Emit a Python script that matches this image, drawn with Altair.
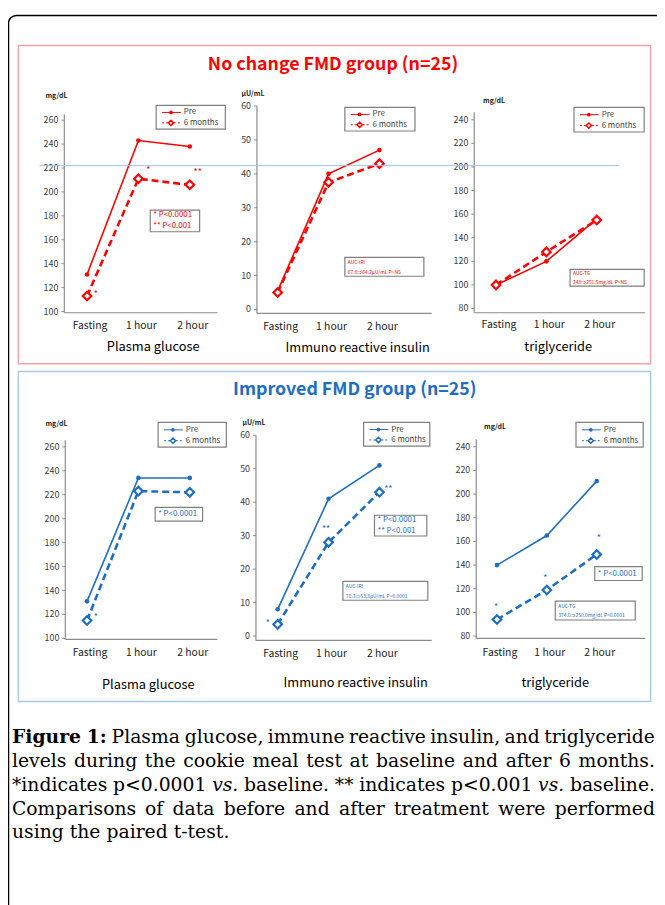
import altair as alt
import pandas as pd

# ---------------- data ----------------
times = ["Fasting", "1 hour", "2 hour"]
series_names = ["Pre", "6 months"]

glucose_nochange_pre = [131, 243, 238]
glucose_nochange_6m = [113, 211, 206]
insulin_nochange_pre = [5.5, 40, 47]
insulin_nochange_6m = [5, 37.5, 43]
tg_nochange_pre = [100, 120, 156]
tg_nochange_6m = [100, 128, 155]

glucose_improved_pre = [131, 234, 234]
glucose_improved_6m = [115, 223, 222]
insulin_improved_pre = [8, 41, 51]
insulin_improved_6m = [3.5, 28, 43]
tg_improved_pre = [140, 165, 211]
tg_improved_6m = [94, 119, 149]

glucose_ticks = [100, 120, 140, 160, 180, 200, 220, 240, 260]
insulin_ticks = [0, 10, 20, 30, 40, 50, 60]
tg_ticks = [80, 100, 120, 140, 160, 180, 200, 220, 240]

group_titles = ["No change FMD group (n=25)", "Improved FMD group (n=25)"]
panel_titles = ["Plasma glucose", "Immuno reactive insulin", "triglyceride"]
unit_labels = ["mg/dL", "\u03bcU/mL", "mg/dL"]

p_notes_two = ["*  P<0.0001", "** P<0.001"]
p_notes_one = ["*  P<0.0001"]
auc_nochange_iri = ["AUC-IRI", "67.8\u21d264.2\u03bcU/mL     P=NS"]
auc_nochange_tg = ["AUC-TG", "248\u21d2251.5mg/dL     P=NS"]
auc_improved_iri = ["AUC-IRI", "70.3\u21d253.8\u03bcU/mL     P<0.0001"]
auc_improved_tg = ["AUC-TG", "374.0\u21d2250.0mg/dL    P<0.0001"]

caption_lines = [
    "Figure 1: Plasma glucose, immune reactive insulin, and triglyceride",
    "levels during the cookie meal test at baseline and after 6 months.",
    "*indicates p<0.0001 vs. baseline. ** indicates p<0.001 vs. baseline.",
    "Comparisons of data before and after treatment were performed",
    "using the paired t-test.",
]
caption_bold = ["Figure", "1:"]
caption_italic = ["vs."]

# ---------------- styling ----------------
W, H = 657, 897
OFF = 8
RED = "#FF0000"
BLUE = "#1E6EC0"
AXIS = "#8C8C8C"
TICK = "#404040"
SANS = "Noto Sans CJK JP"
SERIF = "DejaVu Serif"

layers = []
one = pd.DataFrame({"k": [0]})


def px(v):
    return v - OFF


def text(s, x, y, size, color="black", align="left", baseline="middle",
         weight="normal", font=SANS, style="normal"):
    layers.append(
        alt.Chart(one).mark_text(text=s, align=align, baseline=baseline, fontSize=size,
                                 color=color, fontWeight=weight, font=font, fontStyle=style)
        .encode(x=alt.value(px(x)), y=alt.value(px(y)))
    )


def box(x0, y0, x1, y1, stroke, sw=1.0, fill="white", fill_opacity=1.0, radius=0):
    layers.append(
        alt.Chart(one).mark_rect(stroke=stroke, strokeWidth=sw, fill=fill,
                                 fillOpacity=fill_opacity, cornerRadius=radius)
        .encode(x=alt.value(px(x0)), x2=alt.value(px(x1)),
                y=alt.value(px(y0)), y2=alt.value(px(y1)))
    )


def rule(x0, y0, x1, y1, color, sw=1.0, dash=None):
    kw = dict(color=color, strokeWidth=sw)
    if dash:
        kw["strokeDash"] = dash
    layers.append(
        alt.Chart(one).mark_rule(**kw)
        .encode(x=alt.value(px(x0)), x2=alt.value(px(x1)),
                y=alt.value(px(y0)), y2=alt.value(px(y1)))
    )


def symbol(x, y, shape, size, color, filled):
    if filled:
        m = alt.Chart(one).mark_point(shape=shape, size=size, filled=True, color=color, opacity=1)
    else:
        m = alt.Chart(one).mark_point(shape=shape, size=size, filled=True, fill="white",
                                      stroke=color, strokeWidth=1.5, opacity=1)
    layers.append(m.encode(x=alt.value(px(x)), y=alt.value(px(y))))


def legend(x0, y0, x1, y1, color):
    box(x0, y0, x1, y1, "#7F7F7F", 1.2)
    h = y1 - y0
    r1 = y0 + h * 0.3
    r2 = y0 + h * 0.74
    rule(x0 + 6, r1, x0 + 25, r1, color, 1)
    symbol(x0 + 15, r1, "circle", 14, color, True)
    text(series_names[0], x0 + 28, r1, 8, TICK)
    rule(x0 + 6, r2, x0 + 25, r2, color, 1, [2, 2])
    symbol(x0 + 15, r2, "diamond", 28, color, False)
    text(series_names[1], x0 + 28, r2, 8, TICK)


def note_box(x0, y0, x1, y1, lines, color, size, pad=4):
    box(x0, y0, x1, y1, "#7F7F7F", 1.2)
    n = len(lines)
    h = (y1 - y0)
    for i, s in enumerate(lines):
        yy = y0 + h * (i + 0.5) / n
        text(s, x0 + pad, yy, size, color)


def panel(P, pre, six, ticks, color):
    xs = alt.Scale(type="point", domain=times, range=[px(P["xf"]), px(P["xl"])], padding=0)
    ys = alt.Scale(type="linear", domain=P["dom"], range=[px(P["yb"]), px(P["yt"])],
                   nice=False, zero=False)
    X = alt.X("time:N", scale=xs, axis=None, sort=times)
    Y = alt.Y("value:Q", scale=ys, axis=None)
    # axes
    rule(P["ax"], P["yt"], P["ax"], P["yb"], AXIS, 1.2)
    rule(P["ax"], P["yb"], P["xend"], P["yb"], AXIS, 1.2)
    tdf = pd.DataFrame({"tick": ticks})
    layers.append(
        alt.Chart(tdf).mark_rule(color=AXIS, strokeWidth=1)
        .encode(x=alt.value(px(P["ax"] - 3)), x2=alt.value(px(P["ax"])),
                y=alt.Y("tick:Q", scale=ys, axis=None))
    )
    layers.append(
        alt.Chart(tdf).mark_text(align="right", baseline="middle", fontSize=9, font=SANS, color=TICK)
        .encode(x=alt.value(px(P["ax"] - 6)), y=alt.Y("tick:Q", scale=ys, axis=None),
                text="tick:Q")
    )
    xdf = pd.DataFrame({"time": times})
    layers.append(
        alt.Chart(xdf).mark_text(align="center", baseline="middle", fontSize=10.5, font=SANS,
                                 color="#222222", dx=3)
        .encode(x=X, y=alt.value(px(P["xlab_y"])), text="time:N")
    )
    # data
    df_pre = pd.DataFrame({"time": times, "value": pre, "idx": [0, 1, 2]})
    df_six = pd.DataFrame({"time": times, "value": six, "idx": [0, 1, 2]})
    layers.append(alt.Chart(df_pre).mark_line(color=color, strokeWidth=1.6)
                  .encode(x=X, y=Y, order="idx:Q"))
    layers.append(alt.Chart(df_six).mark_line(color=color, strokeWidth=2.6, strokeDash=[7, 4])
                  .encode(x=X, y=Y, order="idx:Q"))
    layers.append(alt.Chart(df_pre).mark_point(shape="circle", size=22, filled=True,
                                               color=color, opacity=1)
                  .encode(x=X, y=Y))
    layers.append(alt.Chart(df_six).mark_point(shape="diamond", size=75, filled=True,
                                               fill="white", stroke=color, strokeWidth=2.2,
                                               opacity=1)
                  .encode(x=X, y=Y))
    # labels
    text(unit_labels[P["i"]], P["unit"][0], P["unit"][1], 7, "#222222", align="center",
         weight="bold")
    text(panel_titles[P["i"]], P["title"][0], P["title"][1], 13, "black", align="center")
    legend(*P["legend"], color)


# ---------------- frame ----------------
box(8.5, 10, 720, 960, "black", 1.5, fill="white", fill_opacity=0, radius=8)
box(18.5, 40.5, 658.5, 362.5, "#F4A3A3", 1.5, fill="white", fill_opacity=0)
box(18.5, 370.5, 658.5, 704.5, "#A9CBEA", 1.5, fill="white", fill_opacity=0)
text(group_titles[0], 337, 60, 18, RED, align="center", weight="bold")
text(group_titles[1], 359, 389, 18, BLUE, align="center", weight="bold")

P_top = [
    dict(i=0, ax=65, xf=88, xl=192, yb=311, yt=110, dom=[99, 265], xend=220, xlab_y=324,
         unit=(57, 92), title=(155, 346), legend=(158, 101, 228, 125)),
    dict(i=1, ax=260, xf=281, xl=384, yb=311.7, yt=101.7, dom=[-1.17, 60], xend=437, xlab_y=325,
         unit=(256, 90), title=(362, 347), legend=(349, 103, 420, 127)),
    dict(i=2, ax=480, xf=502, xl=604, yb=311, yt=108, dom=[76.4, 246.4], xend=653, xlab_y=323,
         unit=(500, 97), title=(565, 346), legend=(581, 103, 652, 128)),
]
P_bot = [
    dict(i=0, ax=66, xf=88, xl=192, yb=641.7, yt=440, dom=[99.2, 265.5], xend=220, xlab_y=655,
         unit=(57, 424), title=(150, 688), legend=(160, 422, 229, 447)),
    dict(i=1, ax=259, xf=281, xl=384, yb=642.7, yt=435, dom=[-1.3, 60], xend=437, xlab_y=656,
         unit=(257, 423), title=(360, 686), legend=(368, 422, 435, 446)),
    dict(i=2, ax=482, xf=503, xl=604, yb=640.7, yt=439, dom=[78, 246.4], xend=653, xlab_y=655,
         unit=(501, 427), title=(562, 686), legend=(583, 422, 651, 447)),
]

panel(P_top[0], glucose_nochange_pre, glucose_nochange_6m, glucose_ticks, RED)
panel(P_top[1], insulin_nochange_pre, insulin_nochange_6m, insulin_ticks, RED)
panel(P_top[2], tg_nochange_pre, tg_nochange_6m, tg_ticks, RED)
panel(P_bot[0], glucose_improved_pre, glucose_improved_6m, glucose_ticks, BLUE)
panel(P_bot[1], insulin_improved_pre, insulin_improved_6m, insulin_ticks, BLUE)
panel(P_bot[2], tg_improved_pre, tg_improved_6m, tg_ticks, BLUE)

# stray horizontal guide line seen in the figure
rule(40, 162, 627, 162, "#9FC5EA", 1)

# significance stars
for s, x, y, c in [("*", 97, 292, RED), ("*", 150, 167, RED), ("**", 200, 169, RED),
                   ("*", 97, 619, BLUE), ("*", 271, 625, BLUE), ("**", 330, 530, BLUE),
                   ("**", 393, 489, BLUE), ("*", 502, 609, BLUE), ("*", 552, 580, BLUE),
                   ("*", 606, 539, BLUE)]:
    text(s, x, y, 9, c, align="center")

# p-value and AUC boxes
note_box(152, 207, 202, 229, p_notes_two, RED, 8, 3)
note_box(157, 508, 205, 522, p_notes_one, BLUE, 8, 3)
note_box(379, 516, 432, 537, p_notes_two, BLUE, 8, 3)
note_box(602, 568, 650, 582, p_notes_one, BLUE, 8, 3)
note_box(349, 255, 429, 274, auc_nochange_iri, RED, 5, 3)
note_box(577, 267, 652, 284, auc_nochange_tg, RED, 5, 3)
note_box(347, 583, 433, 602, auc_improved_iri, BLUE, 5, 3)
note_box(562, 603, 643, 622, auc_improved_tg, BLUE, 5, 3)

# ---------------- caption (justified) ----------------
TW = {' ': 318, '*': 500, ',': 318, '-': 338, '.': 318, ':': 337, '<': 838,
      '0': 636, '1': 636, '6': 636,
      'C': 734, 'F': 680, 'P': 703,
      'a': 596, 'b': 640, 'c': 560, 'd': 640, 'e': 592, 'f': 370, 'g': 640, 'h': 644,
      'i': 320, 'j': 310, 'k': 606, 'l': 320, 'm': 948, 'n': 644, 'o': 602, 'p': 640,
      'q': 640, 'r': 478, 's': 513, 't': 402, 'u': 644, 'v': 565, 'w': 856, 'x': 564,
      'y': 565, 'z': 527}
CAP_SIZE = 19
CAP_L, CAP_R = 12, 663
CAP_Y0, CAP_DY = 741, 24


def word_w(w, st):
    base = sum(TW.get(c, 620) for c in w) / 1000 * CAP_SIZE
    return base * (1.12 if st == "b" else 1.0)


for li, line in enumerate(caption_lines):
    words = line.split(" ")
    styles = []
    for wi, w in enumerate(words):
        if li == 0 and wi < 2 and w in caption_bold:
            styles.append("b")
        elif w in caption_italic:
            styles.append("i")
        else:
            styles.append("n")
    widths = [word_w(w, s) for w, s in zip(words, styles)]
    if li < len(caption_lines) - 1:
        gap = max(3.0, (CAP_R - CAP_L - sum(widths)) / (len(words) - 1))
    else:
        gap = 0.318 * CAP_SIZE
    x = CAP_L
    y = CAP_Y0 + li * CAP_DY
    for w, s, wd in zip(words, styles, widths):
        text(w, x, y, CAP_SIZE, "black", weight="bold" if s == "b" else "normal",
             font=SERIF, style="italic" if s == "i" else "normal")
        x += wd + gap

chart = (
    alt.layer(*layers)
    .resolve_scale(x="independent", y="independent")
    .properties(width=W, height=H, autosize=alt.AutoSizeParams(type="none"), padding=0,
                background="white")
    .configure_view(stroke=None)
)

chart.save("out.html", embed_options={"renderer": "svg", "actions": False})
